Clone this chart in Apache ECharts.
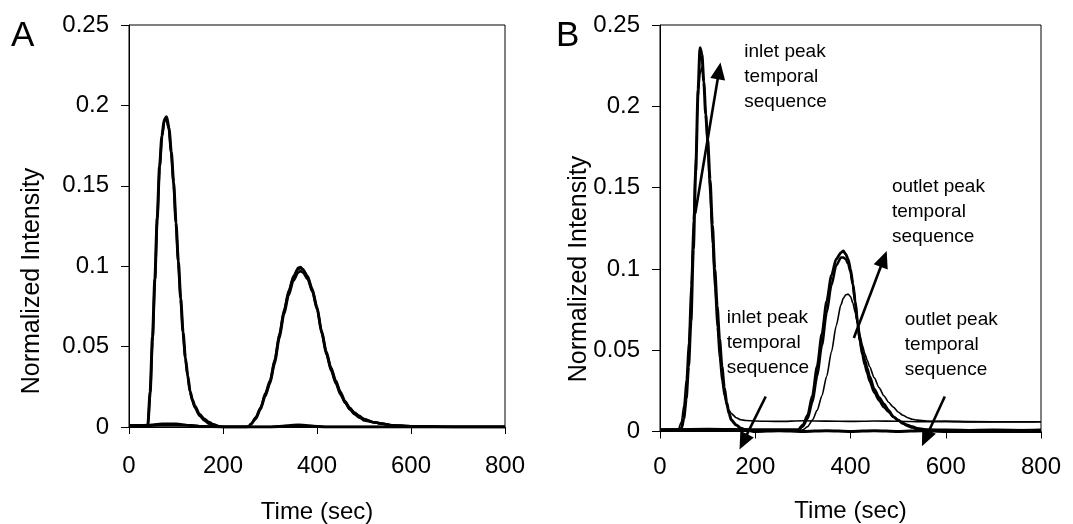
<!DOCTYPE html>
<html>
<head>
<meta charset="utf-8">
<title>Normalized Intensity</title>
<script src="https://cdn.jsdelivr.net/npm/echarts@6/dist/echarts.min.js"></script>
<style>
  html, body { margin: 0; padding: 0; background: #fff; }
  #main { width: 1073px; height: 524px; }
</style>
</head>
<body>
<div id="main"></div>
<script>
// ---- panel A data (time in sec, normalized intensity) ----
var aInletTime = [0, 20, 40, 45, 50, 55, 60, 65, 70, 75, 80, 85, 90, 95, 100, 105, 110, 115, 120, 125, 130, 135, 140, 150, 160, 170, 180, 190, 200, 250, 300, 340, 360, 380, 420, 500, 600, 700, 800];
var aInlet1 = [0.001, 0.001, 0.001, 0.022, 0.056, 0.092, 0.130, 0.162, 0.181, 0.191, 0.193, 0.186, 0.171, 0.152, 0.127, 0.103, 0.080, 0.059, 0.043, 0.032, 0.022, 0.017, 0.013, 0.008, 0.005, 0.003, 0.0015, 0.0005, 0, 0, 0, 0.0005, 0.001, 0.0005, 0, 0, 0, 0, 0];
var aInlet2 = [0.001, 0.001, 0.001, 0.020, 0.053, 0.090, 0.128, 0.160, 0.180, 0.190, 0.191, 0.185, 0.170, 0.150, 0.126, 0.101, 0.079, 0.058, 0.042, 0.031, 0.022, 0.016, 0.012, 0.007, 0.004, 0.002, 0.001, 0, 0, 0, 0, 0.001, 0.0015, 0.001, 0, 0, 0, 0, 0];

var aOutletTime = [0, 50, 70, 100, 130, 150, 200, 250, 255, 260, 270, 280, 290, 300, 310, 320, 330, 340, 350, 360, 365, 370, 380, 390, 400, 410, 420, 430, 440, 450, 460, 470, 480, 490, 500, 520, 540, 560, 600, 700, 800];
var aOutlet1 = [0, 0.001, 0.0015, 0.0015, 0.001, 0.0005, 0, 0, 0.0005, 0.002, 0.006, 0.012, 0.020, 0.028, 0.041, 0.057, 0.072, 0.084, 0.093, 0.098, 0.099, 0.098, 0.093, 0.085, 0.074, 0.059, 0.046, 0.036, 0.028, 0.021, 0.015, 0.011, 0.008, 0.006, 0.005, 0.003, 0.002, 0.001, 0.0005, 0, 0];
var aOutlet2 = [0, 0.0015, 0.002, 0.002, 0.001, 0.0005, 0, 0, 0.0005, 0.002, 0.005, 0.011, 0.019, 0.027, 0.039, 0.055, 0.070, 0.082, 0.091, 0.096, 0.097, 0.096, 0.092, 0.084, 0.073, 0.058, 0.045, 0.035, 0.027, 0.020, 0.015, 0.011, 0.008, 0.006, 0.004, 0.003, 0.002, 0.001, 0.0005, 0, 0];
var aOutlet3 = [0, 0.001, 0.001, 0.001, 0.001, 0, 0, 0, 0.0005, 0.002, 0.006, 0.012, 0.021, 0.029, 0.042, 0.058, 0.073, 0.085, 0.094, 0.099, 0.0995, 0.098, 0.094, 0.086, 0.075, 0.060, 0.047, 0.037, 0.029, 0.022, 0.016, 0.012, 0.009, 0.007, 0.005, 0.003, 0.002, 0.001, 0.0005, 0, 0];

// ---- panel B data ----
var bInletTime = [0, 20, 38, 45, 50, 55, 60, 65, 70, 75, 80, 84, 88, 92, 96, 100, 105, 110, 115, 120, 125, 130, 135, 140, 145, 150, 160, 170, 180, 200, 250, 300, 350, 400, 450, 500, 550, 600, 650, 700, 750, 800];
var bInletThick = [0.001, 0.001, 0.001, 0.002, 0.008, 0.020, 0.040, 0.068, 0.112, 0.160, 0.210, 0.236, 0.232, 0.215, 0.195, 0.180, 0.155, 0.127, 0.100, 0.077, 0.057, 0.040, 0.027, 0.018, 0.011, 0.007, 0.004, 0.002, 0.001, 0, 0.0005, 0, 0.0005, 0, 0.0005, 0, 0.0005, 0, 0, 0, 0, 0];
var bInletThin = [0.001, 0.001, 0.001, 0.006, 0.016, 0.032, 0.055, 0.090, 0.130, 0.170, 0.205, 0.220, 0.224, 0.216, 0.196, 0.174, 0.145, 0.115, 0.088, 0.064, 0.045, 0.031, 0.022, 0.016, 0.013, 0.011, 0.0085, 0.0072, 0.0068, 0.0065, 0.0062, 0.0066, 0.0064, 0.0062, 0.0065, 0.0063, 0.006, 0.0062, 0.0059, 0.006, 0.0058, 0.006];

var bOutletTime = [0, 100, 200, 280, 290, 300, 310, 320, 330, 340, 350, 360, 370, 380, 385, 390, 395, 400, 405, 410, 415, 420, 425, 430, 435, 440, 450, 460, 470, 480, 490, 500, 510, 520, 530, 540, 560, 600, 700, 800];
var bOutlet1 = [0.001, 0.0015, 0.001, 0.001, 0.001, 0.004, 0.010, 0.022, 0.040, 0.060, 0.080, 0.096, 0.106, 0.110, 0.111, 0.109, 0.106, 0.100, 0.091, 0.080, 0.067, 0.056, 0.049, 0.044, 0.039, 0.034, 0.026, 0.021, 0.017, 0.013, 0.009, 0.007, 0.005, 0.0035, 0.0025, 0.0015, 0.001, 0.0005, 0.001, 0.0005];
var bOutlet2 = [0.001, 0.001, 0.001, 0.001, 0.001, 0.003, 0.008, 0.018, 0.034, 0.053, 0.073, 0.090, 0.102, 0.107, 0.107, 0.106, 0.103, 0.098, 0.090, 0.079, 0.066, 0.055, 0.047, 0.041, 0.036, 0.031, 0.024, 0.019, 0.015, 0.012, 0.009, 0.007, 0.005, 0.004, 0.003, 0.002, 0.001, 0.001, 0.0005, 0.001];
var bOutletThin = [0.0005, 0.0005, 0.0005, 0.0005, 0.0005, 0.001, 0.003, 0.007, 0.013, 0.022, 0.034, 0.049, 0.065, 0.078, 0.082, 0.084, 0.0845, 0.083, 0.079, 0.073, 0.066, 0.059, 0.053, 0.048, 0.044, 0.040, 0.033, 0.027, 0.022, 0.018, 0.015, 0.012, 0.010, 0.0085, 0.0075, 0.007, 0.0065, 0.0062, 0.006, 0.006];

// arrows in panel B: [fromTime, fromValue, toTime, toValue]
var bArrows = [
  [74, 0.134, 127, 0.227],
  [222, 0.0215, 167, -0.011],
  [407, 0.0575, 476, 0.111],
  [598, 0.0215, 550, -0.009]
];
// notes in panel B (top-left corner of each text block)
var noteTime = [177, 140, 487, 514];
var noteValue = [0.2413, 0.0775, 0.1582, 0.0763];
var noteText = [
  'inlet peak\ntemporal\nsequence',
  'inlet peak\ntemporal\nsequence',
  'outlet peak\ntemporal\nsequence',
  'outlet peak\ntemporal\nsequence'
];

var timeTicks = [0, 200, 400, 600, 800];

function zip(xs, ys) {
  var out = [];
  for (var i = 0; i < xs.length; i++) out.push([xs[i], ys[i]]);
  return out;
}

var FONT = '"Liberation Sans", Arial, sans-serif';

function lineSeries(idx, xs, ys, width) {
  return {
    type: 'line',
    xAxisIndex: idx,
    yAxisIndex: idx,
    data: zip(xs, ys),
    showSymbol: false,
    smooth: 0.25,
    smoothMonotone: 'x',
    lineStyle: { color: '#000', width: width },
    silent: true
  };
}

function xAxisOf(idx, gap, margin) {
  return {
    type: 'value',
    gridIndex: idx,
    min: timeTicks[0],
    max: timeTicks[timeTicks.length - 1],
    interval: 200,
    name: 'Time (sec)',
    nameLocation: 'middle',
    nameGap: gap,
    nameTextStyle: { fontSize: 24, color: '#000', fontFamily: FONT },
    axisLine: { lineStyle: { color: '#000', width: 1 } },
    axisTick: { length: 7, lineStyle: { color: '#000' } },
    axisLabel: { fontSize: 24, color: '#000', margin: margin, fontFamily: FONT },
    splitLine: { show: false }
  };
}

function yAxisOf(idx) {
  return {
    type: 'value',
    gridIndex: idx,
    min: 0,
    max: 0.25,
    interval: 0.05,
    axisLine: { show: true, lineStyle: { color: '#000', width: 1 } },
    axisTick: { show: true, length: 8, lineStyle: { color: '#000' } },
    axisLabel: { fontSize: 24, color: '#000', margin: 20, fontFamily: FONT },
    splitLine: { show: false }
  };
}

var chart = echarts.init(document.getElementById('main'));

chart.setOption({
  animation: false,
  backgroundColor: '#fff',
  textStyle: { fontFamily: FONT },
  grid: [
    { left: 129, top: 25, width: 376, height: 402, containLabel: false, outerBoundsMode: 'none',
      show: true, borderColor: '#000', borderWidth: 1, backgroundColor: 'transparent' },
    { left: 660, top: 25, width: 381, height: 406.5, containLabel: false, outerBoundsMode: 'none',
      show: true, borderColor: '#000', borderWidth: 1, backgroundColor: 'transparent' }
  ],
  xAxis: [xAxisOf(0, 73, 27), xAxisOf(1, 68, 24)],
  yAxis: [yAxisOf(0), yAxisOf(1)],
  graphic: [
    { type: 'text', x: 11, y: 19, style: { text: 'A', font: '35px ' + FONT, fill: '#000' } },
    { type: 'text', x: 556, y: 19, style: { text: 'B', font: '35px ' + FONT, fill: '#000' } },
    { type: 'text', x: 32, y: 281, rotation: Math.PI / 2,
      style: { text: 'Normalized Intensity', font: '25px ' + FONT, fill: '#000', align: 'center', verticalAlign: 'middle' } },
    { type: 'text', x: 579, y: 269, rotation: Math.PI / 2,
      style: { text: 'Normalized Intensity', font: '25px ' + FONT, fill: '#000', align: 'center', verticalAlign: 'middle' } }
  ],
  series: [
    lineSeries(0, aInletTime, aInlet1, 3),
    lineSeries(0, aInletTime, aInlet2, 2.4),
    lineSeries(0, aOutletTime, aOutlet1, 2.6),
    lineSeries(0, aOutletTime, aOutlet2, 2.4),
    lineSeries(0, aOutletTime, aOutlet3, 2.4),

    lineSeries(1, bInletTime, bInletThick, 3),
    lineSeries(1, bInletTime, bInletThin, 1.6),
    lineSeries(1, bOutletTime, bOutlet1, 2.8),
    lineSeries(1, bOutletTime, bOutlet2, 2.5),
    lineSeries(1, bOutletTime, bOutletThin, 1.6),

    {
      type: 'custom',
      xAxisIndex: 1,
      yAxisIndex: 1,
      silent: true,
      data: bArrows,
      renderItem: function (params, api) {
        var p1 = api.coord([api.value(0), api.value(1)]);
        var p2 = api.coord([api.value(2), api.value(3)]);
        var dx = p2[0] - p1[0], dy = p2[1] - p1[1];
        var len = Math.sqrt(dx * dx + dy * dy);
        var ux = dx / len, uy = dy / len;
        var headLen = 17, headW = 7.5;
        var bx = p2[0] - ux * headLen, by = p2[1] - uy * headLen;
        return {
          type: 'group',
          children: [
            { type: 'line', shape: { x1: p1[0], y1: p1[1], x2: bx + ux * 2, y2: by + uy * 2 },
              style: { stroke: '#000', lineWidth: 2.6 } },
            { type: 'polygon',
              shape: { points: [[p2[0], p2[1]], [bx - uy * headW, by + ux * headW], [bx + uy * headW, by - ux * headW]] },
              style: { fill: '#000' } }
          ]
        };
      }
    },
    {
      type: 'custom',
      xAxisIndex: 1,
      yAxisIndex: 1,
      silent: true,
      data: zip(noteTime, noteValue),
      renderItem: function (params, api) {
        var p = api.coord([api.value(0), api.value(1)]);
        return {
          type: 'text',
          x: p[0],
          y: p[1],
          style: {
            text: noteText[params.dataIndex],
            font: '19px ' + FONT,
            fill: '#000',
            align: 'left',
            verticalAlign: 'top',
            lineHeight: 25
          }
        };
      }
    }
  ]
});
</script>
</body>
</html>
